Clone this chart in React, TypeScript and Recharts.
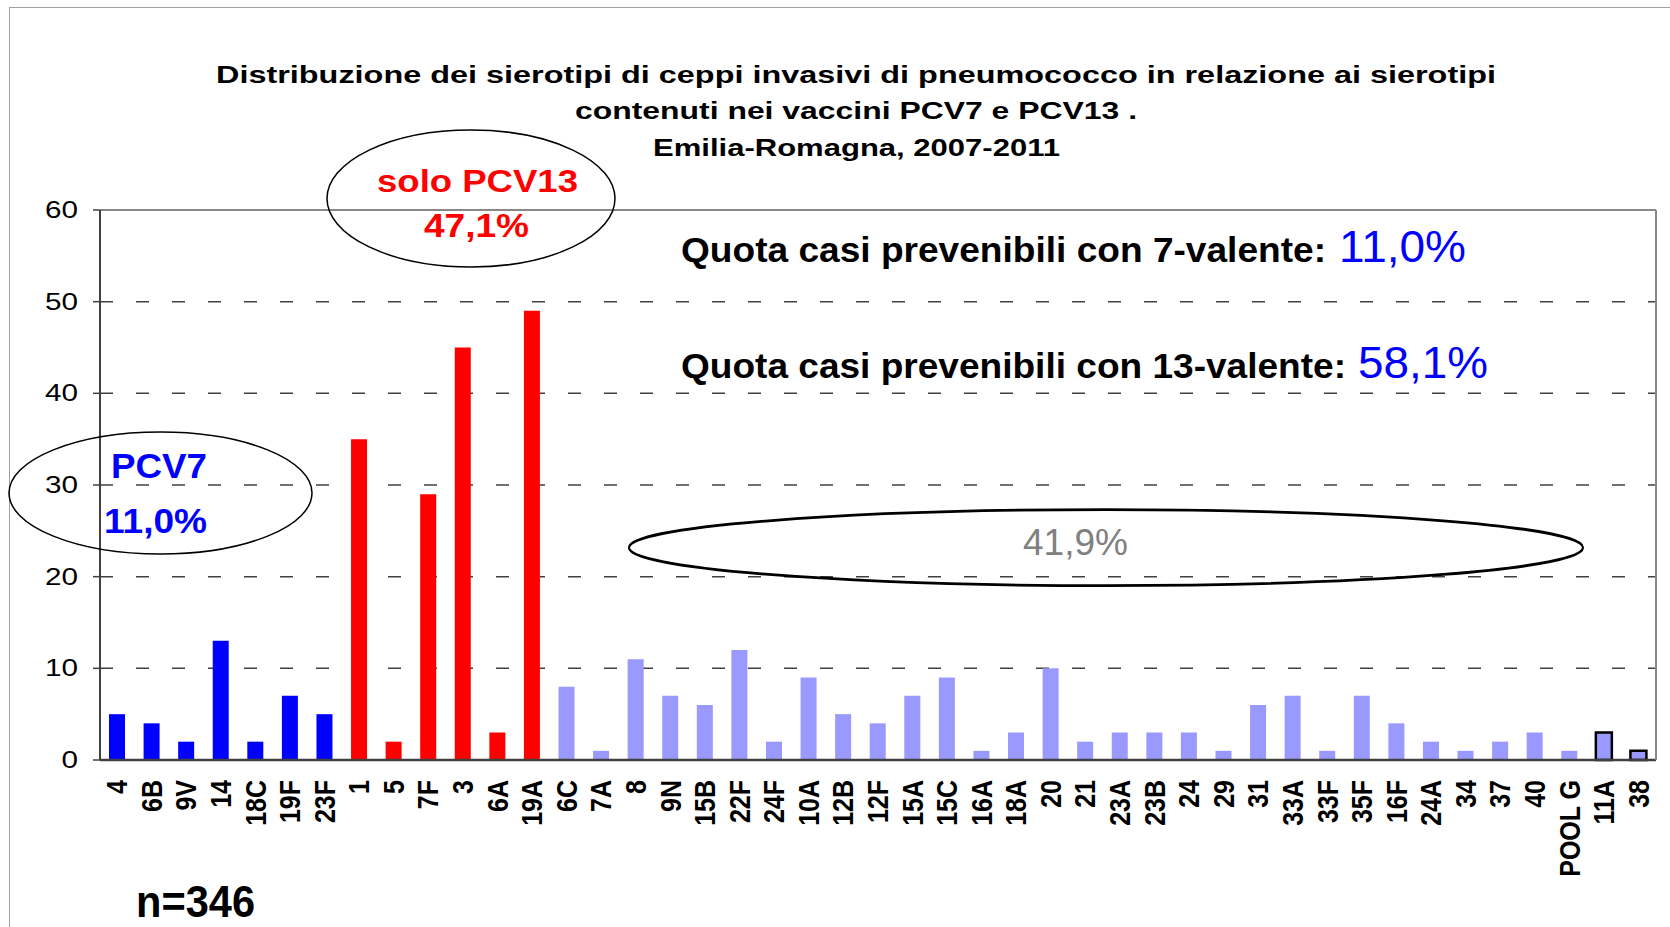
import React from 'react';
import { BarChart, Bar, XAxis, YAxis, CartesianGrid, Cell } from 'recharts';

// serotypes covered by the 7-valent vaccine
const pcv7Serotypes = ['4', '6B', '9V', '14', '18C', '19F', '23F'];
const pcv7Cases = [5, 4, 2, 13, 2, 7, 5];

// extra serotypes of the 13-valent vaccine
const pcv13Serotypes = ['1', '5', '7F', '3', '6A', '19A'];
const pcv13Cases = [35, 2, 29, 45, 3, 49];

// serotypes not in the vaccines
const otherSerotypes = [
  '6C', '7A', '8', '9N', '15B', '22F', '24F', '10A', '12B', '12F',
  '15A', '15C', '16A', '18A', '20', '21', '23A', '23B', '24', '29',
  '31', '33A', '33F', '35F', '16F', '24A', '34', '37', '40', 'POOL G',
];
const otherCases = [
  8, 1, 11, 7, 6, 12, 2, 9, 5, 4,
  7, 9, 1, 3, 10, 2, 3, 3, 3, 1,
  6, 7, 1, 7, 4, 2, 1, 2, 3, 1,
];

// last two, drawn with a black outline
const outlinedSerotypes = ['11A', '38'];
const outlinedCases = [3, 1];

const yTicks = [0, 10, 20, 30, 40, 50, 60];
const gridValues = [10, 20, 30, 40, 50];

const FONT = '"Liberation Sans", Arial, sans-serif';

const data = [
  ...pcv7Serotypes.map((s, i) => ({ name: s, value: pcv7Cases[i], fill: '#0000FF', outlined: false })),
  ...pcv13Serotypes.map((s, i) => ({ name: s, value: pcv13Cases[i], fill: '#FF0000', outlined: false })),
  ...otherSerotypes.map((s, i) => ({ name: s, value: otherCases[i], fill: '#9999FF', outlined: false })),
  ...outlinedSerotypes.map((s, i) => ({ name: s, value: outlinedCases[i], fill: '#9999FF', outlined: true })),
];

const XTick = (props: any) => {
  const { x, payload } = props;
  return (
    <text
      transform={`translate(${x + 10}, 780) scale(1.15, 1) rotate(-90)`}
      textAnchor="end"
      fontSize={25}
      fontWeight="bold"
      fontFamily={FONT}
      fill="#000"
    >
      {payload.value}
    </text>
  );
};

const YTick = (props: any) => {
  const { x, y, payload } = props;
  const label = String(payload.value);
  return (
    <text
      x={x}
      y={y + 8}
      textAnchor="end"
      fontSize={23}
      fontFamily={FONT}
      fill="#000"
      textLength={16.5 * label.length}
      lengthAdjust="spacingAndGlyphs"
    >
      {label}
    </text>
  );
};

export default function App() {
  return (
    <div style={{ position: 'absolute', left: 0, top: 0, width: 1670, height: 927, background: '#fff' }}>
      <BarChart
        width={1670}
        height={927}
        data={data}
        barSize={16}
        margin={{ top: 209, right: 13, left: 20, bottom: 27 }}
      >
        <CartesianGrid
          vertical={false}
          horizontalValues={gridValues}
          stroke="#404040"
          strokeWidth={1.5}
          strokeDasharray="13 23"
        />
        <XAxis
          dataKey="name"
          interval={0}
          height={140}
          tickLine={false}
          axisLine={{ stroke: '#404040', strokeWidth: 2.5 }}
          tick={<XTick />}
        />
        <XAxis
          xAxisId="top"
          orientation="top"
          dataKey="name"
          height={1}
          tick={false}
          tickLine={false}
          axisLine={{ stroke: '#888888', strokeWidth: 2 }}
        />
        <YAxis
          domain={[0, 60]}
          ticks={yTicks}
          width={80}
          tickSize={7}
          tickMargin={15}
          tickLine={{ stroke: '#404040', strokeWidth: 1.5 }}
          axisLine={{ stroke: '#404040', strokeWidth: 2 }}
          tick={<YTick />}
        />
        <YAxis
          yAxisId="right"
          orientation="right"
          domain={[0, 60]}
          width={1}
          tick={false}
          tickLine={false}
          axisLine={{ stroke: '#888888', strokeWidth: 2 }}
        />
        <Bar dataKey="value" isAnimationActive={false}>
          {data.map((d) => (
            <Cell
              key={d.name}
              fill={d.fill}
              stroke={d.outlined ? '#000' : 'none'}
              strokeWidth={d.outlined ? 2.5 : 0}
            />
          ))}
        </Bar>
      </BarChart>

      <svg
        width={1670}
        height={927}
        style={{ position: 'absolute', left: 0, top: 0, pointerEvents: 'none' }}
        fontFamily={FONT}
      >
        <rect x={9.5} y={7.5} width={1700} height={1000} fill="none" stroke="#a0a0a0" strokeWidth={1} />

        <text x={216} y={83} fontSize={23} fontWeight="bold" textLength={1280} lengthAdjust="spacingAndGlyphs">
          Distribuzione dei sierotipi di ceppi invasivi di pneumococco in relazione ai sierotipi
        </text>
        <text x={575} y={119} fontSize={23} fontWeight="bold" textLength={562} lengthAdjust="spacingAndGlyphs">
          contenuti nei vaccini PCV7 e PCV13 .
        </text>
        <text x={653} y={156} fontSize={23} fontWeight="bold" textLength={407} lengthAdjust="spacingAndGlyphs">
          Emilia-Romagna, 2007-2011
        </text>

        <ellipse cx={471} cy={198.5} rx={144} ry={68.5} fill="none" stroke="#000" strokeWidth={1.5} />
        <text x={377} y={192} fontSize={31} fontWeight="bold" fill="#FF0000" textLength={201} lengthAdjust="spacingAndGlyphs">
          solo PCV13
        </text>
        <text x={424} y={237} fontSize={33} fontWeight="bold" fill="#FF0000" textLength={105} lengthAdjust="spacingAndGlyphs">
          47,1%
        </text>

        <ellipse cx={160.5} cy={493} rx={151.5} ry={61} fill="none" stroke="#000" strokeWidth={1.5} />
        <text x={111} y={478} fontSize={35} fontWeight="bold" fill="#0000FF" textLength={96} lengthAdjust="spacingAndGlyphs">
          PCV7
        </text>
        <text x={104} y={533} fontSize={35} fontWeight="bold" fill="#0000FF" textLength={103} lengthAdjust="spacingAndGlyphs">
          11,0%
        </text>

        <ellipse cx={1106} cy={548} rx={477} ry={38} fill="none" stroke="#000" strokeWidth={2} />
        <ellipse cx={1106} cy={547} rx={477} ry={38} fill="none" stroke="#000" strokeWidth={1.5} />
        <text x={1023} y={555} fontSize={36} fill="#808080" textLength={105} lengthAdjust="spacingAndGlyphs">
          41,9%
        </text>

        <text x={681} y={262} fontSize={35} fontWeight="bold" fill="#000" textLength={645} lengthAdjust="spacingAndGlyphs">
          Quota casi prevenibili con 7-valente:
        </text>
        <text x={1339} y={262} fontSize={45} fill="#0000FF" textLength={127} lengthAdjust="spacingAndGlyphs">
          11,0%
        </text>
        <text x={681} y={378} fontSize={35} fontWeight="bold" fill="#000" textLength={665} lengthAdjust="spacingAndGlyphs">
          Quota casi prevenibili con 13-valente:
        </text>
        <text x={1358} y={378} fontSize={45} fill="#0000FF" textLength={130} lengthAdjust="spacingAndGlyphs">
          58,1%
        </text>

        <text x={136} y={917} fontSize={44} fontWeight="bold" fill="#000" textLength={119} lengthAdjust="spacingAndGlyphs">
          n=346
        </text>
      </svg>
    </div>
  );
}
